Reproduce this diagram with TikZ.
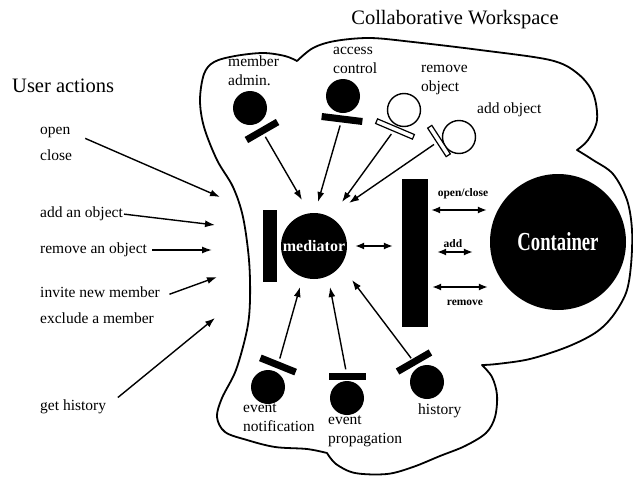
\documentclass[tikz,border=0pt]{standalone}
\usepackage{fontspec}
\setmainfont{Liberation Serif}
\usetikzlibrary{arrows.meta}
\begin{document}
\begin{tikzpicture}[x=1pt,y=-1pt,
  conn/.style={line width=1.4pt,-{Latex[length=10pt,width=7pt]}},
  dconn/.style={line width=1.4pt,{Latex[length=9pt,width=7pt]}-{Latex[length=9pt,width=7pt]}},
  lbl/.style={font=\fontsize{15.5}{19}\selectfont, inner sep=0pt, align=left},
  act/.style={lbl, anchor=west},
  heading/.style={font=\fontsize{20.5}{24}\selectfont, inner sep=0pt},
  comp/.style={circle, fill=black, minimum size=34pt, inner sep=0pt},
  ocomp/.style={circle, draw=black, line width=1.4pt, fill=white, minimum size=33pt, inner sep=0pt},
  bar/.style={rectangle, fill=black, inner sep=0pt, minimum height=7pt},
  obar/.style={rectangle, draw=black, line width=1.2pt, fill=white, inner sep=0pt, minimum height=5pt},
  small/.style={font=\fontsize{11.5}{12}\selectfont\bfseries, inner sep=0pt},
  cloud/.style={line width=1.8pt, line join=round},
]
\useasboundingbox (0,0) rectangle (633,477);

% workspace outline
\draw[cloud] plot[smooth, tension=0.55] coordinates {(297,61) (313,48) (335,41) (370,38) (413,42) (480,50) (550,60) (577,73) (593,93) (597,120) (588,140) (577,150)}
 -- plot[smooth, tension=0.55] coordinates {(577,150) (593,160) (613,174) (627,200) (632,230) (631,265) (626,293) (612,317) (595,333) (567,347) (530,359) (497,364) (482,365)}
 -- plot[smooth, tension=0.55] coordinates {(482,365) (492,377) (497,395) (495,417) (486,433) (465,446) (440,456) (413,467) (387,474) (355,473) (336,464) (327,453)}
 -- plot[smooth, tension=0.55] coordinates {(327,453) (307,449) (275,447) (247,440) (225,432) (217,417) (222,398) (236,370) (247,330) (250,300) (249,260) (243,217) (233,187) (217,160) (204,127) (200,100) (204,74) (214,62) (235,56) (263,53) (285,56) (297,61)}
 -- cycle;

% headings
\node[heading] (ws) at (455,20) {Collaborative Workspace};
\node[heading, anchor=west] (ua) at (12,86) {User actions};

% user action labels
\node[act] (open) at (40,132) {open};
\node[act] (close) at (40,155) {close};
\node[act] (addobj) at (40,214) {add an object};
\node[act] (remobj) at (40,250) {remove an object};
\node[act] (invite) at (40,292) {invite new member};
\node[act] (exclude) at (40,318) {exclude a member};
\node[act] (gethist) at (40,407) {get history};

% arrow tips at the workspace border
\coordinate (t-open) at (220,197);
\coordinate (t-add) at (215,225);
\coordinate (t-rem) at (212,250);
\coordinate (t-inv) at (217,277);
\coordinate (t-hist) at (215,318);

\draw[conn, shorten <=16pt] (open.east) -- (t-open);
\draw[conn, shorten <=1pt] (addobj.east) -- (t-add);
\draw[conn, shorten <=5pt] (remobj.east) -- (t-rem);
\draw[conn, shorten <=10pt] (invite.south east) -- (t-inv);
\draw[conn, shorten <=15pt] (gethist.east) -- (t-hist);

% mediator and container
\node[circle, fill=black, minimum size=66pt, inner sep=0pt, text=white,
      font=\fontsize{16}{16}\selectfont\bfseries] (med) at (314,246) {mediator};
\node[rectangle, fill=black, minimum width=14pt, minimum height=72pt, inner sep=0pt] (medbar) at (270,246) {};
\node[rectangle, fill=black, minimum width=26pt, minimum height=148pt, inner sep=0pt] (bigbar) at (415,253) {};
\node[circle, fill=black, minimum size=136pt, inner sep=0pt, text=white] (container) at (558,242)
  {\scalebox{0.72}[1]{\fontsize{26}{26}\selectfont\bfseries Container}};

% upper components
\node[comp] (madmin) at (250,108) {};
\node[bar, minimum width=36pt, rotate=30] (madmin-bar) at (262,131) {};
\node[lbl, anchor=west] (madmin-l) at (228,71) {member\\admin.};

\node[comp] (access) at (343,96) {};
\node[bar, minimum width=41pt, rotate=-7] (access-bar) at (342,119) {};
\node[lbl, anchor=west] (access-l) at (333,60) {access\\control};

\node[ocomp] (remove) at (404,110) {};
\node[obar, minimum width=40pt, rotate=-23] (remove-bar) at (395,129) {};
\node[lbl, anchor=west] (remove-l) at (421,80) {remove\\object};

\node[ocomp] (add) at (459,137) {};
\node[obar, minimum width=34pt, rotate=-57] (add-bar) at (439,141) {};
\node[lbl, anchor=west] (add-l) at (477,110) {add object};

% lower components
\node[comp] (notif) at (268,387) {};
\node[bar, minimum width=38pt, rotate=-22] (notif-bar) at (278,365) {};
\node[lbl, anchor=north west] (notif-l) at (243,404) {event\\notification};

\node[comp] (prop) at (347,398) {};
\node[bar, minimum width=37pt] (prop-bar) at (347,376) {};
\node[lbl, anchor=north west] (prop-l) at (328,416) {event\\propagation};

\node[comp] (hist) at (427,382) {};
\node[bar, minimum width=38pt, rotate=30] (hist-bar) at (414,362) {};
\node[lbl, anchor=north west] (hist-l) at (418,404) {history};

% arrow tips around the mediator
\coordinate (m-madmin) at (302,200);
\coordinate (m-access) at (318,202);
\coordinate (m-remove) at (342,202);
\coordinate (m-add) at (349,203);
\coordinate (m-notif) at (300,287);
\coordinate (m-prop) at (330,287);
\coordinate (m-hist) at (352,280);

\draw[conn, shorten <=3pt] (madmin-bar) -- (m-madmin);
\draw[conn, shorten <=3pt] (access-bar) -- (m-access);
\draw[conn, shorten <=3pt] (remove-bar) -- (m-remove);
\draw[conn, shorten <=3pt] (add-bar) -- (m-add);
\draw[conn, shorten <=3pt] (notif-bar) -- (m-notif);
\draw[conn, shorten <=3pt] (prop-bar) -- (m-prop);
\draw[conn, shorten <=1pt] (hist-bar) -- (m-hist);

% mediator to container interface
\draw[dconn, shorten <=8pt, shorten >=9pt] (med.east) -- (med.east -| bigbar.west);
\draw[dconn] ([shift={(3,-43)}]bigbar.east) -- ([shift={(-3,-32)}]container.west);
\draw[dconn] ([shift={(9,-1)}]bigbar.east) -- ([shift={(-17,10)}]container.west);
\draw[dconn] ([shift={(4,34)}]bigbar.east) -- ([shift={(-2,45)}]container.west);
\node[small] (oc-l) at (463,194) {open/close};
\node[small] (add-s) at (453,244) {add};
\node[small] (rem-s) at (465,303) {remove};
\end{tikzpicture}
\end{document}
